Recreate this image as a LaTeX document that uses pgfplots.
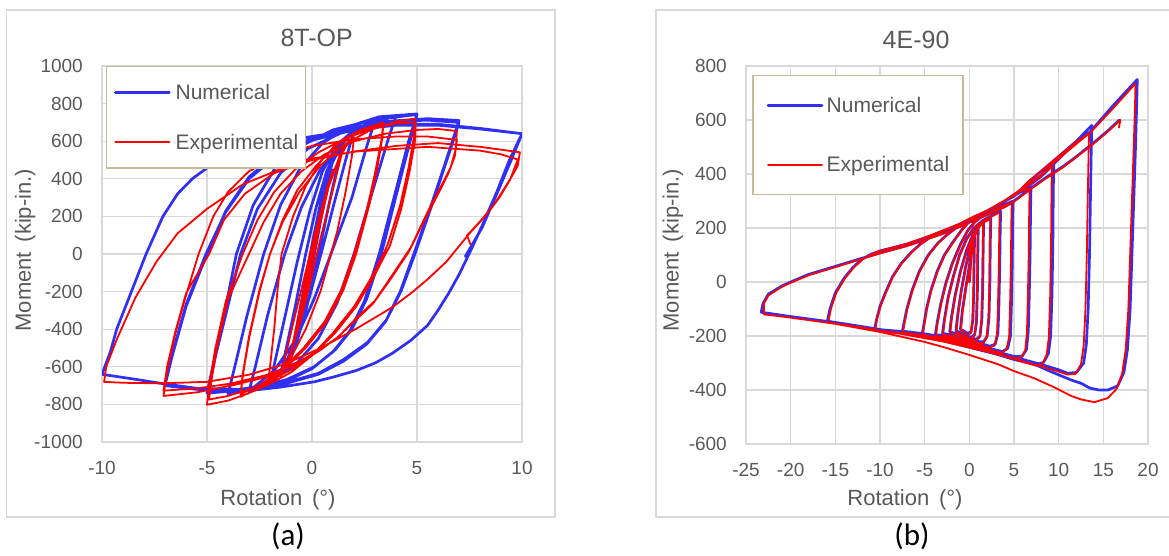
\documentclass[border=0pt]{standalone}
\usepackage{fontspec}
\setmainfont{Liberation Sans}
\newfontfamily\capfont{Carlito}
\usepackage{pgfplots}
\pgfplotsset{compat=1.18}
\definecolor{gridgray}{RGB}{217,217,217}
\definecolor{txtgray}{RGB}{89,89,89}
\definecolor{legtan}{RGB}{196,189,151}
\definecolor{numblue}{RGB}{48,48,245}
\definecolor{expred}{RGB}{255,0,0}
\pgfplotsset{
  panel/.style={
    scale only axis,
    axis line style={draw=gridgray, line width=1.3pt},
    grid=major,
    major grid style={draw=gridgray, line width=1.3pt},
    tick style={draw=none},
    /pgf/number format/assume math mode=true,
    /pgf/number format/1000 sep={},
    ticklabel style={font=\fontsize{19}{19}\selectfont, text=txtgray},
    xticklabel style={anchor=north, inner sep=0pt, yshift=-19pt},
    yticklabel style={anchor=east, inner sep=0pt, xshift=-19pt},
    every axis x label/.style={anchor=center, font=\fontsize{22}{22}\selectfont, text=txtgray},
    every axis y label/.style={anchor=center, rotate=90, font=\fontsize{22}{22}\selectfont, text=txtgray},
    title style={font=\fontsize{25}{25}\selectfont, text=txtgray, anchor=center},
    legend cell align=left,
  },
  numstyle/.style={color=numblue, line width=2.7pt, line join=round, line cap=round},
  expstyle/.style={color=expred, line width=1.8pt, line join=round, line cap=round},
}
\begin{document}
\begin{tikzpicture}
\useasboundingbox (0pt,0pt) rectangle (1169pt,555pt);
\draw[gridgray, line width=1.5pt] (6.7pt,38pt) rectangle (555pt,545pt);
\draw[gridgray, line width=1.5pt] (656pt,38pt) rectangle (1180pt,545pt);
% ---------------- panel (a)
\begin{axis}[panel,
  at={(102pt,113pt)}, anchor=south west,
  width=420pt, height=376pt,
  xmin=-10, xmax=10, ymin=-1000, ymax=1000,
  xtick={-10,-5,0,5,10}, ytick={-1000,-800,-600,-400,-200,0,200,400,600,800,1000},
  title={8T-OP}, title style={at={(axis description cs:0.511,1.058)}},
  xlabel={Rotation\ \,(°)}, xlabel style={at={(axis description cs:0.419,-0.154)}},
  ylabel={Moment\ \,(kip-in.)}, ylabel style={at={(axis description cs:-0.183,0.51)}},
  legend image code/.code={\draw[#1] (0pt,0pt) -- (54pt,0pt); \path (59pt,0pt);},
  legend style={at={(axis description cs:0.0088,1.0)}, anchor=north west, draw=legtan, line width=1.3pt, fill=white,
    inner xsep=7.6pt, inner ysep=15.2pt, row sep=29pt, font=\fontsize{21}{21}\selectfont, text=txtgray,
    nodes={inner sep=0pt, text height=18pt, text depth=3pt}},
]
\addplot[numstyle] coordinates {
(0,0) (0.2,130) (0.4,250) (0.25,160) (0,0) (-0.2,-130) (-0.4,-260) (-0.25,-160) (0,-10) (0.3,170) (0.75,420)
(0.55,300) (0.2,80) (-0.2,-160) (-0.5,-320) (-0.75,-440) (-0.55,-320) (-0.2,-100) (0.2,140) (0.6,370) (1.0,510)
(0.8,400) (0.4,170) (0,-70) (-0.4,-290) (-0.75,-460) (-1.0,-540) (-0.8,-430) (-0.4,-190) (0,50) (0.4,270) (0.9,470) (1.5,600)
(1.3,510) (0.8,260) (0.3,-10) (-0.2,-260) (-0.7,-460) (-1.1,-580) (-1.5,-640) (-1.3,-540) (-0.8,-280) (-0.3,0) (0.2,250) (0.7,440) (1.2,560) (2.0,650)
(1.7,540) (1.1,290) (0.5,30) (-0.1,-220) (-0.7,-440) (-1.3,-590) (-2.0,-690) (-1.8,-590) (-1.3,-340) (-0.7,-40) (-0.1,230) (0.5,440) (1.2,580) (2.0,660) (3.0,710)
(2.6,570) (1.9,300) (0.9,0) (0.1,-240) (-0.8,-460) (-1.8,-620) (-3.0,-730)
(-2.7,-600) (-2.1,-320) (-1.3,0) (-0.5,250) (0.4,450) (1.4,600) (2.6,690) (4.0,735)
(3.6,600) (2.9,340) (2.0,0) (1.2,-260) (0.3,-450) (-0.8,-590) (-2.2,-690) (-4.0,-745)
(-3.7,-610) (-3.1,-330) (-2.3,0) (-1.5,260) (-0.6,450) (0.5,590) (1.8,680) (3.2,730) (5.0,745)
(4.6,600) (4.0,340) (3.2,0) (2.5,-250) (1.8,-410) (1.0,-520) (0.0,-610) (-1.2,-675) (-3.0,-722) (-5.0,-740)
(-4.7,-600) (-4.2,-330) (-3.6,0) (-2.8,260) (-1.8,450) (-0.6,570) (1.0,660) (3.0,715) (5.0,742)
(4.65,590) (4.05,330) (3.3,0) (2.6,-240) (1.9,-400) (1.1,-510) (0.1,-600) (-1.2,-668) (-3.0,-718) (-5.0,-735)
(-4.7,-590) (-4.1,-320) (-3.4,0) (-2.6,240) (-1.5,430) (-0.2,560) (1.5,650) (3.5,705) (5.5,720) (7.0,710)
(6.6,570) (5.8,300) (4.85,0) (4.2,-200) (3.5,-360) (2.6,-480) (1.5,-570) (0.3,-640) (-1.5,-697) (-3.5,-725) (-5.5,-720) (-7.0,-700)
(-6.7,-560) (-6.0,-280) (-5.0,0) (-4.1,230) (-3.0,410) (-1.6,540) (0.0,615) (2.0,675) (4.0,705) (5.5,712) (7.0,700)
(6.6,560) (5.8,290) (4.9,0) (4.25,-195) (3.55,-350) (2.65,-470) (1.5,-562) (0.3,-635) (-1.5,-692) (-3.5,-720) (-5.5,-715) (-7.0,-695)
(-6.7,-550) (-6.0,-270) (-5.05,0) (-4.1,225) (-3.0,400) (-1.6,530) (0.0,605) (2.0,660) (4.0,690) (6.0,690) (8.0,668) (10.0,640)
(9.4,500) (8.8,330) (8.1,150) (7.5,5) (7.0,-110) (6.5,-210) (6.0,-300) (5.5,-380) (4.7,-460) (3.8,-530) (3.0,-580) (2.1,-620) (1.0,-655) (0.1,-680) (-1.5,-708) (-3.0,-727) (-5.0,-722) (-7.2,-688) (-8.5,-665) (-10.0,-640)
(-9.6,-520) (-9.3,-400) (-8.6,-200) (-7.9,0) (-7.1,200) (-6.4,320) (-5.7,400) (-4.9,466) (-3.5,540) (-2.0,590) (0.0,625) (2.0,660) (4.0,685) (6.0,685) (8.0,665) (10.0,640)
(9.45,490) (8.8,320) (8.1,140) (7.3,-13)
};
\addlegendentry{Numerical}
\addplot[expstyle] coordinates {
(0,0) (0.2,100) (0.375,190) (0.2,80) (0,-30) (-0.2,-140) (-0.375,-220) (-0.2,-120) (0,-10) (0.2,110) (0.5,260)
(0.3,140) (0,-40) (-0.3,-200) (-0.5,-300) (-0.3,-190) (0,-30) (0.3,140) (0.75,370)
(0.55,260) (0.2,70) (-0.2,-160) (-0.5,-310) (-0.75,-410) (-0.55,-300) (-0.2,-100) (0.2,110) (0.6,300) (1.0,450)
(0.8,360) (0.4,170) (0,-50) (-0.4,-270) (-0.75,-430) (-1.0,-520) (-0.8,-420) (-0.4,-200) (0,20) (0.4,220) (0.9,400) (1.5,570)
(1.3,480) (0.9,300) (0.4,80) (-0.1,-160) (-0.6,-380) (-1.1,-550) (-1.5,-650)
(-1.3,-560) (-0.9,-370) (-0.4,-140) (0.1,90) (0.6,300) (1.2,480) (1.6,570) (2.0,620)
(1.9,520) (1.6,330) (1.2,120) (0.9,0) (0.4,-200) (-0.3,-400) (-1.0,-550) (-1.6,-650) (-2.1,-700)
(-2.0,-600) (-1.8,-400) (-1.65,-200) (-1.45,0) (-0.9,200) (-0.3,360) (0.4,490) (1.2,590) (2.3,660) (3.4,700)
(3.35,620) (3.1,450) (2.7,250) (2.1,0) (1.5,-190) (0.7,-360) (-0.3,-500) (-1.3,-610) (-2.3,-700) (-3.4,-760)
(-3.3,-650) (-3.0,-450) (-2.5,-200) (-2.0,0) (-1.4,180) (-0.7,340) (0.2,470) (1.2,580) (2.3,655) (3.4,695)
(3.3,600) (3.0,430) (2.6,230) (2.0,0) (1.4,-190) (0.6,-360) (-0.4,-500) (-1.4,-610) (-2.4,-690) (-3.4,-745)
(-3.3,-640) (-3.0,-440) (-2.5,-190) (-2.0,0) (-1.4,170) (-0.6,330) (0.4,470) (1.5,580) (2.8,660) (4.0,705) (4.9,719)
(4.85,620) (4.6,460) (4.2,260) (3.6,50) (3.4,0) (2.8,-130) (2.0,-280) (1.0,-420) (0.0,-540) (-1.0,-630) (-2.0,-690) (-3.0,-740) (-4.0,-780) (-5.0,-802)
(-4.9,-700) (-4.6,-500) (-4.1,-250) (-3.3,0) (-2.6,180) (-1.8,330) (-0.8,450) (0.3,540) (1.5,610) (2.8,665) (4.0,695) (4.94,700)
(4.9,600) (4.65,440) (4.25,240) (3.7,40) (3.5,0) (2.9,-130) (2.1,-280) (1.1,-420) (0.1,-530) (-1.0,-615) (-2.0,-675) (-3.0,-720) (-4.0,-755) (-4.9,-774)
(-4.8,-680) (-4.5,-480) (-4.0,-240) (-3.0,0) (-2.3,170) (-1.5,320) (-0.5,440) (0.6,530) (2.0,600) (3.5,640) (5.0,660) (6.0,665) (6.9,654)
(6.85,560) (6.6,460) (6.2,372) (5.5,222) (4.7,34) (3.8,-116) (3.0,-248) (2.1,-342) (1.3,-436) (0.4,-511) (-0.4,-567) (-1.3,-614) (-2.1,-652) (-3.8,-699) (-5.5,-736) (-7.07,-755)
(-6.9,-620) (-6.5,-420) (-6.0,-220) (-5.4,0) (-4.7,200) (-4.0,330) (-3.0,440) (-1.5,530) (0.0,575) (2.0,610) (4.0,625) (5.5,625) (6.9,607)
(6.8,520) (6.5,430) (6.1,340) (5.4,190) (4.6,10) (3.7,-140) (2.9,-265) (2.0,-360) (1.2,-445) (0.3,-515) (-0.5,-565) (-1.4,-610) (-2.2,-645) (-3.9,-690) (-5.5,-715) (-7.07,-727)
(-6.9,-600) (-6.5,-410) (-6.0,-210) (-4.9,0) (-4.2,180) (-3.2,320) (-1.8,430) (0.0,500) (2.0,545) (4.0,575) (6.0,590) (8.0,570) (9.0,555) (9.9,541)
(9.8,470) (9.5,410) (9.0,320) (8.6,252) (8.1,183) (7.5,110) (6.4,-41) (5.5,-135) (4.7,-210) (3.8,-285) (2.1,-398) (0.4,-501) (-1.3,-586) (-3.0,-642) (-5.0,-680) (-7.2,-688) (-9.0,-685) (-9.9,-680)
(-9.8,-600) (-9.3,-455) (-8.4,-230) (-7.4,-40) (-6.4,110) (-5.0,240) (-3.3,370) (-1.6,447) (-0.25,503) (2.1,545) (5.5,570) (8.0,550) (9.0,530) (9.8,503)
(9.67,464) (9.43,395) (8.95,305) (8.6,252) (8.08,183) (7.52,114) (7.38,100) (7.55,50)
};
\addlegendentry{Experimental}
\end{axis}
% ---------------- panel (b)
\begin{axis}[panel,
  at={(746pt,111pt)}, anchor=south west,
  width=402pt, height=378pt,
  xmin=-25, xmax=20, ymin=-600, ymax=800,
  xtick={-25,-20,-15,-10,-5,0,5,10,15,20}, ytick={-600,-400,-200,0,200,400,600,800},
  title={4E-90}, title style={at={(axis description cs:0.423,1.053)}},
  xlabel={Rotation\ \,(°)}, xlabel style={at={(axis description cs:0.3955,-0.148)}},
  ylabel={Moment\ \,(kip-in.)}, ylabel style={at={(axis description cs:-0.1816,0.513)}},
  legend image code/.code={\draw[#1] (0pt,0pt) -- (54pt,0pt); \path (57.3pt,0pt);},
  legend style={at={(axis description cs:0.0157,0.977)}, anchor=north west, draw=legtan, line width=1.3pt, fill=white,
    inner xsep=13.7pt, inner ysep=19.8pt, row sep=38.9pt, font=\fontsize{21}{21}\selectfont, text=txtgray,
    nodes={inner sep=0pt, text height=17pt, text depth=3.4pt}},
]
\addplot[numstyle] coordinates {
(0,0) (0.2,100) (0.4,160) (0.6,190)
(0.55,100) (0.5,-30) (0.4,-140) (0.2,-185) (-0.2,-190) (-0.6,-182) (-1.0,-175)
(-0.8,-110) (-0.4,-20) (0.0,60) (0.3,130) (0.6,175) (1.0,205)
(0.95,100) (0.9,-40) (0.8,-150) (0.6,-195) (0.2,-205) (-0.6,-195) (-1.5,-180)
(-1.3,-120) (-0.9,-30) (-0.4,60) (0.1,130) (0.6,180) (1.1,208) (1.6,222)
(1.55,120) (1.5,-20) (1.4,-140) (1.2,-200) (0.8,-212) (0.0,-205) (-1.0,-195) (-2.2,-185)
(-2.0,-130) (-1.6,-50) (-1.0,40) (-0.3,120) (0.4,175) (1.0,205) (1.7,225) (2.4,238)
(2.35,150) (2.3,0) (2.2,-130) (2.0,-200) (1.6,-222) (0.8,-220) (-0.5,-208) (-1.8,-198) (-3.0,-190)
(-2.8,-140) (-2.4,-60) (-1.8,20) (-1.1,100) (-0.3,160) (0.5,200) (1.5,228) (2.5,245) (3.5,262)
(3.45,180) (3.4,50) (3.3,-100) (3.2,-190) (2.9,-230) (2.3,-238) (1.0,-225) (-1.0,-208) (-2.5,-200) (-3.8,-195)
(-3.6,-150) (-3.2,-80) (-2.6,0) (-1.9,70) (-1.0,140) (-0.2,190) (0.6,222) (1.5,245) (2.5,262) (3.5,280) (4.9,300)
(4.85,220) (4.8,60) (4.7,-100) (4.6,-200) (4.3,-245) (3.7,-258) (2.5,-248) (1.0,-232) (-1.0,-213) (-3.0,-202) (-5.3,-195)
(-5.1,-160) (-4.8,-100) (-4.3,-30) (-3.6,40) (-2.8,100) (-1.8,150) (-0.8,195) (0.0,225) (1.5,255) (3.0,280) (4.5,310) (5.8,335) (6.9,352)
(6.85,260) (6.8,100) (6.7,-60) (6.6,-180) (6.4,-250) (5.9,-275) (5.0,-276) (3.0,-258) (1.0,-237) (-1.0,-217) (-3.0,-203) (-5.0,-192) (-7.5,-182)
(-7.3,-150) (-7.0,-100) (-6.4,-30) (-5.6,40) (-4.6,100) (-3.5,145) (-2.5,175) (-1.5,200) (0.0,232) (2.0,262) (4.0,300) (6.0,340) (8.0,390) (9.45,435)
(9.4,350) (9.35,150) (9.25,-50) (9.1,-200) (8.85,-265) (8.3,-298) (7.5,-305) (6.0,-290) (4.0,-268) (2.0,-248) (0.0,-230) (-3.0,-207) (-6.0,-190) (-8.0,-182) (-10.6,-175)
(-10.4,-140) (-10.0,-90) (-9.4,-40) (-8.6,20) (-7.6,70) (-6.5,110) (-5.5,140) (-4.5,163) (-3.0,186) (-1.0,215) (0.0,232) (2.0,262) (4.0,300) (6.0,345) (8.0,392) (10.0,455) (12.0,522) (13.7,580)
(13.65,500) (13.55,300) (13.45,100) (13.3,-100) (13.1,-230) (12.8,-300) (12.0,-335) (11.0,-338) (10.0,-325) (8.0,-305) (5.0,-278) (2.0,-252) (0.0,-237) (-3.0,-214) (-5.0,-202) (-8.0,-186) (-10.0,-176) (-13.0,-160) (-15.9,-145)
(-15.6,-100) (-15.0,-40) (-14.0,15) (-13.0,55) (-12.0,85) (-11.0,103) (-10.0,115) (-7.0,140) (-5.0,162) (-3.0,188) (-1.0,215) (0.0,232) (2.0,262) (4.0,300) (5.0,318) (6.8,375) (10.0,465) (12.0,522) (13.5,555) (16.0,650) (18.8,750)
(18.75,680) (18.6,500) (18.4,300) (18.2,100) (18.0,-100) (17.7,-250) (17.3,-335) (16.6,-385) (15.5,-400) (14.5,-400) (13.5,-393) (12.5,-375) (11.4,-363) (9.0,-330) (7.3,-305) (5.0,-287) (3.0,-267) (0.0,-242) (-3.0,-217) (-5.0,-204) (-10.0,-176) (-15.0,-150) (-20.0,-128) (-23.3,-112)
(-23.1,-80) (-22.5,-45) (-21.0,-15) (-20.0,0) (-18.0,28) (-15.0,58) (-12.0,88) (-10.0,108) (-7.0,135) (-5.0,157) (-3.0,180) (-1.0,207) (0.0,222) (2.0,250) (4.0,280) (5.0,300) (6.8,345) (8.5,385) (10.5,428) (12.0,465) (13.9,515) (15.5,560) (16.8,600)
};
\addlegendentry{Numerical}
\addplot[expstyle] coordinates {
(0,0) (0.2,100) (0.4,160) (0.55,185)
(0.5,100) (0.45,-30) (0.35,-140) (0.15,-190) (-0.25,-195) (-0.6,-185) (-0.95,-180)
(-0.75,-110) (-0.35,-20) (0.05,60) (0.35,130) (0.65,178) (0.95,200)
(0.9,100) (0.85,-40) (0.75,-150) (0.55,-200) (0.15,-210) (-0.6,-200) (-1.45,-185)
(-1.25,-120) (-0.85,-30) (-0.35,60) (0.15,130) (0.65,180) (1.1,205) (1.55,218)
(1.5,120) (1.45,-20) (1.35,-140) (1.15,-205) (0.75,-218) (0.0,-210) (-1.0,-200) (-2.15,-190)
(-1.95,-130) (-1.55,-50) (-0.95,40) (-0.25,120) (0.45,175) (1.05,205) (1.7,222) (2.35,233)
(2.3,150) (2.25,0) (2.15,-130) (1.95,-205) (1.55,-227) (0.75,-225) (-0.5,-213) (-1.8,-203) (-2.95,-195)
(-2.75,-140) (-2.35,-60) (-1.75,20) (-1.05,100) (-0.25,160) (0.55,200) (1.5,226) (2.5,243) (3.4,258)
(3.35,180) (3.3,50) (3.2,-100) (3.1,-195) (2.8,-236) (2.2,-243) (1.0,-230) (-1.0,-213) (-2.5,-205) (-3.75,-200)
(-3.55,-150) (-3.15,-80) (-2.55,0) (-1.85,70) (-0.95,140) (-0.15,190) (0.65,222) (1.5,245) (2.5,262) (3.5,280) (4.75,295)
(4.7,220) (4.65,60) (4.55,-100) (4.45,-205) (4.15,-250) (3.6,-262) (2.5,-253) (1.0,-237) (-1.0,-218) (-3.0,-207) (-5.25,-200)
(-5.05,-160) (-4.75,-100) (-4.25,-30) (-3.55,40) (-2.75,100) (-1.75,150) (-0.75,195) (0.05,225) (1.5,255) (3.0,282) (4.5,312) (5.8,337) (6.75,346)
(6.7,260) (6.65,100) (6.55,-60) (6.45,-185) (6.25,-255) (5.8,-280) (5.0,-282) (3.0,-263) (1.0,-242) (-1.0,-222) (-3.0,-208) (-5.0,-197) (-7.45,-187)
(-7.25,-150) (-6.95,-100) (-6.35,-30) (-5.55,40) (-4.55,100) (-3.45,145) (-2.45,176) (-1.45,202) (0.0,235) (2.0,265) (4.0,303) (6.0,343) (8.0,392) (9.25,428)
(9.2,350) (9.15,150) (9.05,-50) (8.9,-205) (8.65,-270) (8.2,-303) (7.5,-310) (6.0,-296) (4.0,-274) (2.0,-254) (0.0,-236) (-3.0,-212) (-6.0,-195) (-8.0,-187) (-10.55,-180)
(-10.35,-140) (-9.95,-90) (-9.35,-40) (-8.55,20) (-7.55,70) (-6.45,110) (-5.45,140) (-4.45,163) (-3.0,188) (-1.0,217) (0.0,235) (2.0,265) (4.0,303) (6.0,348) (8.0,395) (10.0,457) (12.0,512) (13.4,550)
(13.35,480) (13.25,300) (13.15,100) (13.0,-100) (12.8,-235) (12.5,-305) (11.9,-340) (11.0,-343) (10.0,-332) (8.0,-312) (5.0,-285) (2.0,-258) (0.0,-243) (-3.0,-220) (-5.0,-208) (-8.0,-190) (-10.0,-180) (-13.0,-163) (-15.8,-150)
(-15.5,-100) (-14.9,-40) (-13.9,15) (-12.9,55) (-11.9,85) (-10.9,103) (-10.0,115) (-7.0,142) (-5.0,165) (-3.0,190) (-1.0,217) (0.0,235) (2.0,265) (4.0,303) (5.0,320) (6.8,378) (10.0,465) (12.0,520) (13.5,552) (16.0,640) (18.6,735)
(18.55,660) (18.4,500) (18.2,300) (18.0,100) (17.8,-100) (17.5,-250) (17.1,-340) (16.5,-395) (15.5,-430) (14.0,-445) (12.5,-435) (11.4,-422) (9.5,-390) (7.3,-357) (5.0,-330) (3.25,-305) (0.0,-270) (-3.0,-240) (-5.0,-222) (-10.0,-185) (-15.0,-155) (-20.0,-132) (-23.0,-120)
(-23.0,-80) (-22.5,-50) (-21.0,-18) (-20.0,-3) (-18.0,25) (-15.0,55) (-12.0,86) (-10.0,106) (-7.0,133) (-5.0,155) (-3.0,178) (-1.0,205) (0.0,220) (2.0,248) (4.0,278) (5.0,298) (6.8,342) (8.5,382) (10.5,425) (12.0,463) (13.9,512) (15.5,557) (16.9,600) (16.75,572)
};
\addlegendentry{Experimental}
\end{axis}
\node[font=\capfont\fontsize{31}{31}\selectfont, text=black] at (288pt,19pt) {(a)};
\node[font=\capfont\fontsize{31}{31}\selectfont, text=black] at (912pt,19pt) {(b)};
\end{tikzpicture}
\end{document}
